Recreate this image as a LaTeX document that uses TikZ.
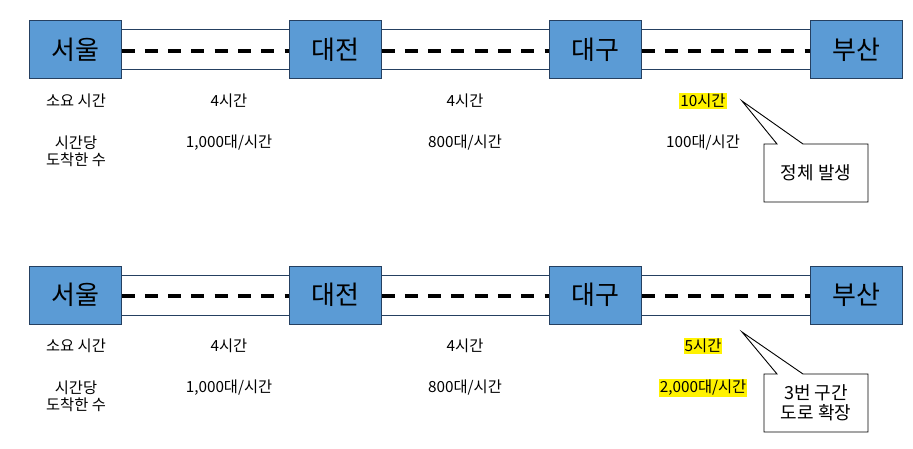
\documentclass[tikz,border=0pt]{standalone}
\usepackage{fontspec}
\setmainfont{Noto Sans CJK KR}
\usepackage{tikz}
\usetikzlibrary{shapes.callouts}
\definecolor{cityblue}{RGB}{91,155,213}
\definecolor{cityedge}{RGB}{37,64,97}

\begin{document}
\begin{tikzpicture}[x=1pt, y=1pt,
  city/.style={draw=cityedge, fill=cityblue, line width=1pt, minimum width=92pt,
    minimum height=58pt, inner sep=0pt, font=\fontsize{26}{30}\selectfont},
  road/.style={draw=cityedge, line width=1pt},
  lane/.style={line width=3.2pt, dash pattern=on 13pt off 10.3pt},
  info/.style={inner sep=1pt, align=center, font=\fontsize{15.3}{17}\selectfont},
  hot/.style={info, fill=yellow},
  note/.style={rectangle callout, draw, fill=white, line width=0.9pt, align=center,
    callout pointer width=26pt, minimum width=104pt, minimum height=58pt,
    font=\fontsize{18}{20.5}\selectfont}]

  \useasboundingbox (0,0) rectangle (913,-449);

  \newcommand\YA{-50}
  \newcommand\YB{-295}
  \newcommand\RW{20}

  % before
  \node[city] (seoulA) at (75,\YA) {서울};
  \node[city] (daejeonA) at (335,\YA) {대전};
  \node[city] (daeguA) at (595,\YA) {대구};
  \node[city] (busanA) at (856,\YA) {부산};

  % after
  \node[city] (seoulB) at (75,\YB) {서울};
  \node[city] (daejeonB) at (335,\YB) {대전};
  \node[city] (daeguB) at (595,\YB) {대구};
  \node[city] (busanB) at (856,\YB) {부산};

  \foreach \a/\b in {seoulA/daejeonA, daejeonA/daeguA, daeguA/busanA,
                     seoulB/daejeonB, daejeonB/daeguB, daeguB/busanB} {
    \draw[road] ([yshift=\RW]\a.east) -- ([yshift=\RW]\b.west);
    \draw[road] ([yshift=-\RW]\a.east) -- ([yshift=-\RW]\b.west);
    \draw[lane] ([yshift=-1]\a.east) -- ([yshift=-1]\b.west);
  }

  \node[info] (timeA) at (76,\YA-51) {소요 시간};
  \node[info] (time1A) at (229,\YA-51) {4시간};
  \node[info] (time2A) at (465,\YA-51) {4시간};
  \node[hot] (time3A) at (703,\YA-51) {10시간};
  \node[info] (rateA) at (76,\YA-101) {시간당\\도착한 수};
  \node[info] (rate1A) at (229,\YA-93) {1,000대/시간};
  \node[info] (rate2A) at (465,\YA-93) {800대/시간};
  \node[info] (rate3A) at (703,\YA-93) {100대/시간};

  \node[info] (timeB) at (76,\YB-51) {소요 시간};
  \node[info] (time1B) at (229,\YB-51) {4시간};
  \node[info] (time2B) at (465,\YB-51) {4시간};
  \node[hot] (time3B) at (703,\YB-51) {5시간};
  \node[info] (rateB) at (76,\YB-101) {시간당\\도착한 수};
  \node[info] (rate1B) at (229,\YB-93) {1,000대/시간};
  \node[info] (rate2B) at (465,\YB-93) {800대/시간};
  \node[hot] (rate3B) at (703,\YB-93) {2,000대/시간};

  \coordinate (tipA) at (742,\YA-51);
  \coordinate (tipB) at (742,\YB-37);
  \node[note, callout absolute pointer={(tipA)}] (jamA) at (816,\YA-123) {정체 발생};
  \node[note, callout absolute pointer={(tipB)}] (wideB) at (816,\YB-108) {3번 구간\\도로 확장};

\end{tikzpicture}
\end{document}
